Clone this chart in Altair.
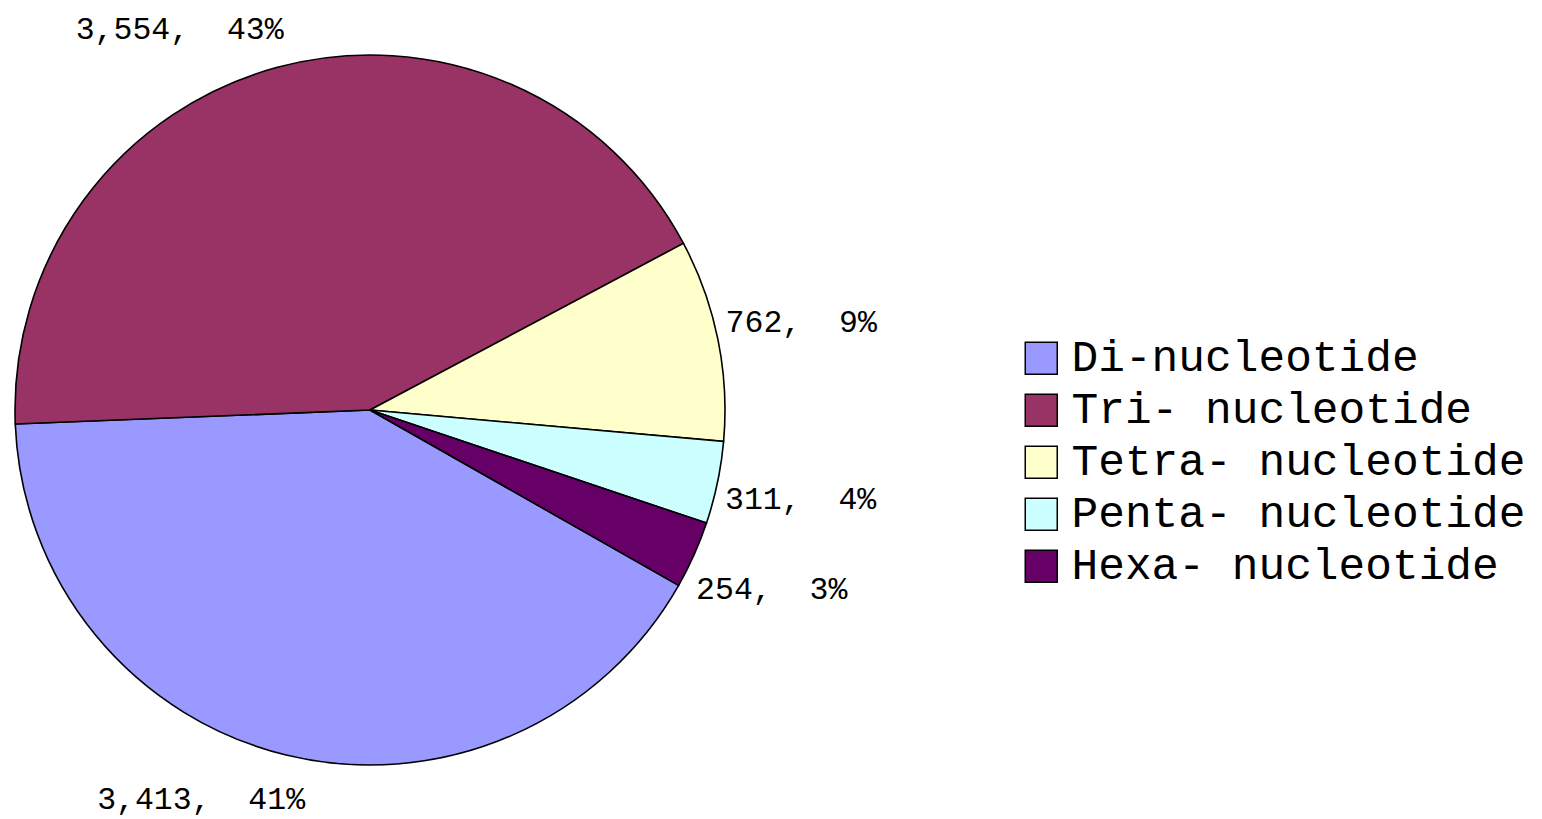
import math
import altair as alt
import pandas as pd

categories = ["Di-nucleotide", "Tri- nucleotide", "Tetra- nucleotide", "Penta- nucleotide", "Hexa- nucleotide"]
counts = [3413, 3554, 762, 311, 254]
colors = ["#9999FF", "#993366", "#FFFFCC", "#CCFFFF", "#660066"]

df = pd.DataFrame({"cat": categories, "value": counts, "idx": list(range(len(categories)))})

CX, CY, R = 370, 410, 355
START = math.radians(119.6)
LR = 440          # label radius
LR_CLAMP = 425    # radius used when a label is slid to stay inside the chart
TOP_LIM = 380     # max label distance above center
BOT_LIM = 390     # max label distance below center

base = alt.Chart(df)

pie = base.mark_arc(stroke="black", strokeWidth=1.6, outerRadius=R).encode(
    theta=alt.Theta("value:Q", stack=True,
                    scale=alt.Scale(range=[START, START + 2 * math.pi])),
    order=alt.Order("idx:Q"),
    color=alt.Color("cat:N",
                    scale=alt.Scale(domain=categories, range=colors),
                    sort=categories,
                    legend=alt.Legend(
                        title=None, orient="none", legendX=1019, legendY=336,
                        symbolType="square", symbolSize=1024,
                        symbolStrokeColor="black", symbolStrokeWidth=1.5,
                        labelFont="Liberation Mono", labelFontSize=44.5,
                        labelColor="black", labelOffset=8, rowPadding=7,
                        padding=0, labelLimit=600)),
    x=alt.value(CX),
    y=alt.value(CY),
)

labels = base.transform_window(
    cum="sum(value)", sort=[alt.SortField("idx")], frame=[None, 0]
).transform_joinaggregate(
    total="sum(value)"
).transform_calculate(
    mid=f"{START} + 2*PI*(datum.cum - datum.value/2)/datum.total"
).transform_calculate(
    c=f"{LR}*cos(datum.mid)", s="sin(datum.mid)"
).transform_calculate(
    clamped=f"datum.c > {TOP_LIM} || -datum.c > {BOT_LIM}",
    ang=(f"datum.c > {TOP_LIM} ? (datum.s < 0 ? 2*PI - acos({TOP_LIM}/{LR_CLAMP}) : acos({TOP_LIM}/{LR_CLAMP})) : "
         f"(-datum.c > {BOT_LIM} ? (datum.s < 0 ? PI + acos({BOT_LIM}/{LR_CLAMP}) : PI - acos({BOT_LIM}/{LR_CLAMP})) : datum.mid)")
).transform_calculate(
    rr=f"datum.clamped ? {LR_CLAMP} : {LR}"
).transform_calculate(
    lx=f"{CX} + datum.rr*sin(datum.ang)",
    ly=f"{CY} - datum.rr*cos(datum.ang)",
    txt="format(datum.value, ',') + ', \u00a0' + format(datum.value/datum.total, '.0%')"
).mark_text(font="Liberation Mono", fontSize=31.5, color="black",
            align="center", baseline="middle").encode(
    x=alt.X("lx:Q", scale=None, axis=None),
    y=alt.Y("ly:Q", scale=None, axis=None),
    text="txt:N",
)

chart = alt.layer(pie, labels).properties(
    width=1542, height=819, padding=0,
    autosize=alt.AutoSizeParams(type="none"),
    background="white",
).configure_view(stroke=None)

chart.save("out.html", embed_options={"renderer": "svg", "actions": False})
